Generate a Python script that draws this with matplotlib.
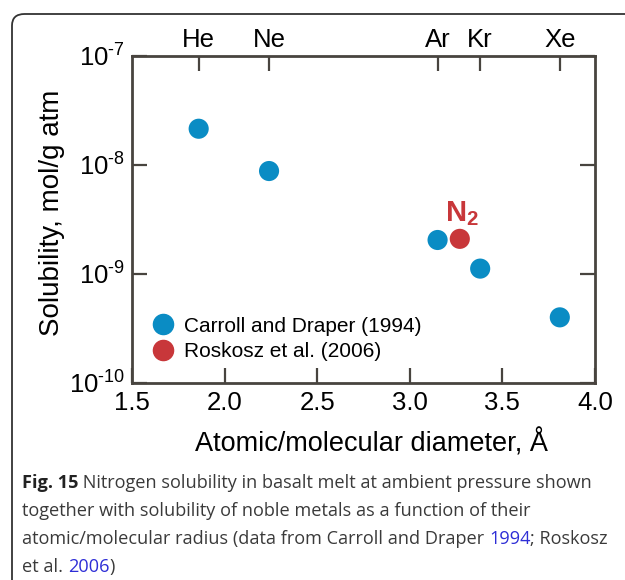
import matplotlib
matplotlib.use("Agg")
import matplotlib.pyplot as plt
from matplotlib.patches import FancyBboxPatch
from matplotlib.lines import Line2D

plt.rcParams['font.family'] = ['Liberation Sans', 'DejaVu Sans']
plt.rcParams['mathtext.fontset'] = 'custom'
plt.rcParams['mathtext.rm'] = 'Liberation Sans'
plt.rcParams['mathtext.it'] = 'Liberation Sans:italic'
plt.rcParams['mathtext.bf'] = 'Liberation Sans:bold'

# data
noble_gas = ['He', 'Ne', 'Ar', 'Kr', 'Xe']
noble_diam = [1.86, 2.24, 3.15, 3.38, 3.81]
noble_sol = [2.15e-8, 8.8e-9, 2.05e-9, 1.12e-9, 4.0e-10]
n2_diam = [3.27]
n2_sol = [2.1e-9]
xticks = [1.5, 2.0, 2.5, 3.0, 3.5, 4.0]
yticks = [1e-10, 1e-9, 1e-8, 1e-7]
ytick_labels = ['$10^{\\text{-10}}$', '$10^{\\text{-9}}$', '$10^{\\text{-8}}$', '$10^{\\text{-7}}$']

blue = '#0a8cc4'
red = '#c8373a'
frame = '#48443f'

fig = plt.figure(figsize=(6.25, 5.8), dpi=100)
ax = fig.add_axes([0.2112, 0.3397, 0.7408, 0.5638])

ax.scatter(noble_diam, noble_sol, s=210, color=blue, edgecolors='none', zorder=3)
ax.scatter(n2_diam, n2_sol, s=210, color=red, edgecolors='none', zorder=3)
ax.text(n2_diam[0] + 0.01, n2_sol[0] * 1.25, '$\\mathbf{N_2}$', color=red,
        fontsize=21, ha='center', va='bottom')

ax.set_yscale('log')
ax.set_xlim(1.5, 4.0)
ax.set_ylim(1e-10, 1e-7)
ax.set_xticks(xticks)
ax.set_xticklabels(['%.1f' % v for v in xticks])
ax.set_yticks(yticks)
ax.set_yticklabels(ytick_labels)
ax.minorticks_off()
ax.tick_params(axis='both', direction='in', length=11, width=1.6, color=frame,
               labelsize=18.5, right=True)
ax.tick_params(axis='x', pad=6)
ax.tick_params(axis='y', pad=5)
for sp in ax.spines.values():
    sp.set_color(frame)
    sp.set_linewidth(2)

ax.set_xlabel('Atomic/molecular diameter, Å', fontsize=19.5)
ax.xaxis.set_label_coords(0.517, -0.14)
ax.set_ylabel('Solubility, mol/g atm', fontsize=20)
ax.yaxis.set_label_coords(-0.145, 0.52)

top = ax.twiny()
top.set_xlim(ax.get_xlim())
top.set_xticks(noble_diam)
top.set_xticklabels(noble_gas)
top.tick_params(axis='x', direction='in', length=11, width=1.6, color=frame,
                labelsize=18.5, pad=2.5)
for sp in top.spines.values():
    sp.set_visible(False)

handles = [Line2D([], [], marker='o', ls='none', color=blue, markersize=14.5),
           Line2D([], [], marker='o', ls='none', color=red, markersize=14.5)]
ax.legend(handles, ['Carroll and Draper (1994)', 'Roskosz et al. (2006)'],
          loc='lower left', bbox_to_anchor=(-0.018, 0.01), frameon=False,
          fontsize=15, handletextpad=0.0, labelspacing=0.3, borderaxespad=0.5)

# outer rounded border (runs off the right and bottom edges)
box = FancyBboxPatch((12 / 625, -0.1), 1.1, 1 - 14 / 580 + 0.1,
                     boxstyle='round,pad=0,rounding_size=0.02',
                     transform=fig.transFigure, fill=False, lw=1.3,
                     edgecolor='#333333', clip_on=False)
fig.patches.append(box)

# caption with mixed styles
caption = [
    [('Fig. 15', 'bold', '#222222'),
     (' Nitrogen solubility in basalt melt at ambient pressure shown', 'normal', '#3a3a3a')],
    [('together with solubility of noble metals as a function of their', 'normal', '#3a3a3a')],
    [('atomic/molecular radius (data from Carroll and Draper ', 'normal', '#3a3a3a'),
     ('1994', 'normal', '#2e2ed6'),
     ('; Roskosz', 'normal', '#3a3a3a')],
    [('et al. ', 'normal', '#3a3a3a'),
     ('2006', 'normal', '#2e2ed6'),
     (')', 'normal', '#3a3a3a')],
]
renderer = fig.canvas.get_renderer()
y0 = 483
for line in caption:
    x = 22
    for txt, weight, col in line:
        t = fig.text(x / 625, 1 - y0 / 580, txt, fontsize=13.1, fontweight=weight,
                     color=col, family=['Open Sans', 'DejaVu Sans'],
                     ha='left', va='center')
        x += t.get_window_extent(renderer).width
    y0 += 28

fig.savefig('out.png', dpi=100)
